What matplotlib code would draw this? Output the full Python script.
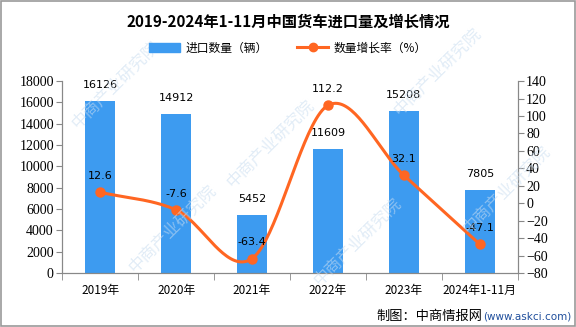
import numpy as np
import matplotlib
matplotlib.use("Agg")
import matplotlib.pyplot as plt
from matplotlib.patches import Rectangle
from matplotlib.lines import Line2D
from matplotlib.patches import Patch

plt.rcParams['font.family'] = ['Noto Sans CJK SC', 'DejaVu Sans']

categories = ["2019年", "2020年", "2021年", "2022年", "2023年", "2024年1-11月"]
volume = [16126, 14912, 5452, 11609, 15208, 7805]
growth = [12.6, -7.6, -63.4, 112.2, 32.1, -47.1]
left_ticks = list(range(0, 18001, 2000))
right_ticks = list(range(-80, 141, 20))

BAR = "#3d9bf0"
LINE = "#ff6622"
AXIS = "#888888"

fig = plt.figure(figsize=(5.76, 3.27), dpi=100)
ax = fig.add_axes([0.108, 0.165, 0.791, 0.587])
ax2 = ax.twinx()

x = np.arange(len(categories))

# faint diagonal watermark
for (wx, wy) in [(0.2, 0.74), (0.47, 0.56), (0.76, 0.78), (0.3, 0.3),
                 (0.62, 0.26), (0.88, 0.42)]:
    fig.text(wx, wy, "中商产业研究院", fontsize=12, color="#c9ddf0", alpha=0.55,
             rotation=45, ha="center", va="center", zorder=0)

ax.bar(x, volume, width=0.4, color=BAR, zorder=2)
for xi, v in zip(x, volume):
    ax.annotate(str(v), (xi, v), xytext=(0, 8), textcoords="offset points",
                ha="center", va="bottom", fontsize=8, family="DejaVu Sans")

# smooth line through growth points (Catmull-Rom)
def catmull(px, py, n=40):
    px = np.asarray(px, float); py = np.asarray(py, float)
    ext_x = np.concatenate([[2*px[0]-px[1]], px, [2*px[-1]-px[-2]]])
    ext_y = np.concatenate([[2*py[0]-py[1]], py, [2*py[-1]-py[-2]]])
    xs, ys = [], []
    for i in range(1, len(ext_x) - 2):
        t = np.linspace(0, 1, n)
        p0, p1, p2, p3 = [np.array([ext_x[j], ext_y[j]]) for j in range(i-1, i+3)]
        t2, t3 = t*t, t*t*t
        pts = 0.5 * ((2*p1)[:, None] + (-p0 + p2)[:, None]*t + (2*p0 - 5*p1 + 4*p2 - p3)[:, None]*t2
                     + (-p0 + 3*p1 - 3*p2 + p3)[:, None]*t3)
        xs.extend(pts[0]); ys.extend(pts[1])
    return np.array(xs), np.array(ys)

sx, sy = catmull(x, growth)
ax2.plot(sx, sy, color=LINE, lw=2.2, zorder=3)
ax2.plot(x, growth, "o", color=LINE, ms=6.5, zorder=4)
for xi, g in zip(x, growth):
    ax2.annotate(f"{g}", (xi, g), xytext=(0, 8), textcoords="offset points",
                 ha="center", va="bottom", fontsize=8, family="DejaVu Sans", zorder=5)

ax.set_xlim(-0.5, 5.5)
ax.set_ylim(0, 18000)
ax2.set_ylim(-80, 140)
ax.set_yticks(left_ticks)
ax2.set_yticks(right_ticks)
ax.set_yticklabels([str(t) for t in left_ticks], family="Liberation Serif", fontsize=10)
ax2.set_yticklabels([str(t).replace("-", "\u2212") for t in right_ticks], family="Liberation Serif", fontsize=10)

ax.set_xticks(x)
ax.set_xticklabels(categories, fontsize=8.5)
ax.tick_params(axis="x", length=0, pad=8)
ax.set_xticks(np.arange(-0.5, 6, 1), minor=True)
ax.tick_params(axis="x", which="minor", length=5, color=AXIS)
ax.tick_params(axis="y", length=4, color=AXIS, pad=2)
ax2.tick_params(axis="y", length=4, color=AXIS, pad=2)

for a in (ax, ax2):
    a.spines["top"].set_visible(False)
    for s in ("left", "right", "bottom"):
        a.spines[s].set_color(AXIS)
ax.set_zorder(ax2.get_zorder() - 1)
ax2.patch.set_visible(False)
ax.patch.set_visible(False)

fig.text(0.5, 0.933, "2019-2024年1-11月中国货车进口量及增长情况", ha="center", va="center",
         fontsize=11, fontweight="bold")

handles = [Patch(color=BAR), Line2D([], [], color=LINE, lw=2.2, marker="o", ms=6)]
fig.legend(handles, ["进口数量（辆）", "数量增长率（%）"], loc="center", bbox_to_anchor=(0.5, 0.853),
           ncol=2, frameon=False, fontsize=8.5, handlelength=2.6, columnspacing=2.5,
           handletextpad=0.5)

fig.text(0.837, 0.033, "制图：中商情报网", ha="right", va="center", fontsize=9.5)
fig.text(0.838, 0.033, "(www.askci.com)", ha="left", va="center", fontsize=7.5,
         color="#1f4e9c", family="DejaVu Sans")

fig.add_artist(Rectangle((0.001, 0.002), 0.997, 0.995, transform=fig.transFigure,
                         fill=False, edgecolor="#999999", lw=1.2))

fig.savefig("out.png", dpi=100)
